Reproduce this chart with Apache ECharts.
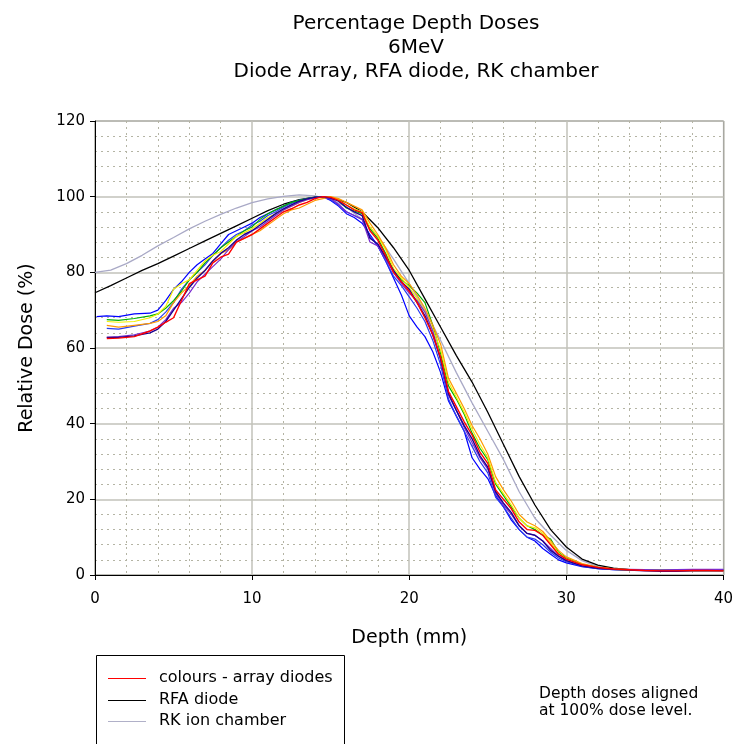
<!DOCTYPE html>
<html><head><meta charset="utf-8">
<script src="https://cdn.jsdelivr.net/npm/echarts@6/dist/echarts.min.js"></script>
<style>html,body{margin:0;padding:0;background:#fff}#c{width:736px;height:744px}</style>
</head><body><div id="c"></div>
<script>
// ---- data ----
const xTicks = [0, 10, 20, 30, 40];
const yTicks = [0, 20, 40, 60, 80, 100, 120];

// depths (mm) of the diode-array readings
const arrayDepths = [0.75,1.5,2.5,3.5,
  4,4.5,5,5.5,6,6.5,7,7.5,8,8.5,9,9.5,
  10,10.5,11,11.5,12,12.5,13,13.5,14,14.5,15,15.5,
  16,16.5,17,17.5,18,18.5,19,19.5,20,20.5,21,21.5,
  22,22.5,23,23.5,24,24.5,25,25.5,26,26.5,27,27.5,
  28,28.5,29,29.5,30,
  31,32,33,34,35,36,37,38,39,40];
const blueDepths = [0.1].concat(arrayDepths);

const redDiode = [62.5,62.6,63.0,64.5,
  65.5,66.8,68.0,72.5,77.0,78.0,79.0,82.5,84.0,84.8,88.0,89.0,
  90.0,91.5,93.0,94.5,96.0,96.8,97.8,98.5,99.5,100.0,99.8,99.0,
  97.8,96.5,95.8,91.0,88.5,84.5,80.0,77.5,75.0,72.0,68.0,63.5,
  57.5,48.5,44.5,40.5,37.0,32.5,29.5,22.5,20.0,17.5,14.0,12.0,
  11.8,10.5,8.0,5.5,4.2,
  2.7,2.0,1.6,1.4,1.2,1.1,1.1,1.2,1.2,1.1];
const blueDiode = [68.3,
  68.5,68.3,69.0,69.2,
  70.0,72.5,75.5,77.5,80.0,82.0,83.5,85.0,87.5,90.0,91.0,92.0,
  93.0,94.5,95.5,96.5,97.5,98.5,99.0,99.5,99.8,100.0,99.0,97.5,
  95.5,94.5,93.0,90.0,87.0,83.0,78.5,74.0,68.5,65.5,63.0,59.0,
  53.5,46.0,42.0,38.0,31.0,28.0,25.5,21.0,18.0,14.5,12.0,10.0,
  9.0,7.0,5.5,4.0,3.2,
  2.2,1.7,1.4,1.3,1.2,1.2,1.2,1.2,1.2,1.2];
const greenDiode = [67.5,67.3,67.8,68.5,
  69.0,70.5,72.5,75.0,78.0,80.0,82.5,84.5,86.5,88.0,89.5,91.0,
  92.0,94.0,95.5,96.5,97.5,98.5,99.0,99.5,99.8,100.0,99.8,99.0,
  97.0,96.2,95.5,91.5,89.0,85.0,80.5,78.0,76.5,74.5,72.0,66.0,
  58.5,50.0,46.5,42.5,37.5,33.5,30.5,24.0,21.0,18.0,15.0,13.0,
  12.0,10.5,9.5,6.0,4.5,
  2.8,2.0,1.6,1.4,1.3,1.2,1.2,1.2,1.2,1.2];
const yellowDiode = [67.0,66.8,67.0,68.0,
  69.0,71.0,75.5,77.0,78.0,80.5,83.0,84.5,85.5,87.5,89.5,90.5,
  91.5,93.0,94.5,95.5,96.5,97.5,98.5,99.2,99.6,100.0,99.8,99.2,
  97.8,96.8,96.0,92.0,89.5,86.0,81.0,78.5,76.0,73.0,69.5,65.0,
  59.5,51.0,47.0,43.0,38.5,34.5,31.0,24.5,21.5,18.5,15.0,13.0,
  12.5,11.0,8.5,5.8,4.3,
  2.7,1.9,1.5,1.3,1.2,1.1,1.1,1.1,1.1,1.1];
const orangeDiode = [66.0,65.5,66.0,66.5,
  67.0,68.5,72.0,74.5,76.5,79.0,80.5,83.0,85.0,86.0,88.0,89.0,
  90.0,91.0,92.5,94.0,95.5,96.5,97.0,98.0,99.0,99.5,100.0,99.5,
  98.5,97.5,96.5,93.0,90.0,86.5,82.0,79.0,77.0,74.0,70.5,66.0,
  61.0,52.0,48.0,44.0,39.5,36.0,32.0,26.0,22.5,19.5,16.0,14.0,
  13.0,11.5,9.0,6.5,4.8,
  3.0,2.1,1.6,1.4,1.3,1.2,1.2,1.2,1.2,1.2];
const purpleDiode = [62.8,63.0,63.5,64.5,
  65.5,67.5,70.5,72.0,74.5,77.5,79.5,81.5,83.5,86.0,88.0,89.5,
  91.0,92.0,93.5,95.0,96.5,97.5,98.5,99.2,99.7,100.0,99.5,98.0,
  96.0,95.0,94.0,88.0,87.0,83.5,80.0,77.0,74.5,72.5,69.5,64.5,
  57.0,47.5,43.5,39.0,35.0,31.0,28.0,21.5,18.5,16.0,13.0,11.0,
  10.5,9.0,7.0,5.0,3.8,
  2.5,1.8,1.5,1.5,1.4,1.3,1.4,1.5,1.5,1.5];
const royalDiode = [65.2,65.0,65.8,66.5,
  67.5,69.5,72.0,75.5,78.0,80.0,82.0,84.5,86.5,88.5,90.0,91.0,
  92.5,93.5,95.0,96.0,97.2,98.2,99.0,99.5,99.8,100.0,99.2,97.8,
  96.0,95.0,94.0,89.5,87.0,83.0,79.0,76.5,73.5,70.5,67.0,62.0,
  55.5,46.5,42.0,38.0,34.0,30.0,27.0,20.5,18.0,15.0,12.0,10.0,
  9.5,8.0,6.0,4.5,3.5,
  2.3,1.7,1.4,1.3,1.2,1.2,1.2,1.2,1.2,1.2];
const navyDiode = [62.8,62.8,63.2,64.0,
  65.0,67.0,70.0,73.0,76.0,78.5,80.5,83.0,85.0,86.5,88.5,90.0,
  91.0,92.5,94.0,95.5,96.8,97.8,98.8,99.4,99.8,100.0,99.6,98.8,
  97.2,96.0,95.0,89.0,87.5,84.0,80.5,77.5,75.5,72.0,68.5,63.5,
  57.0,48.0,43.5,39.5,36.0,31.5,28.5,22.0,19.0,16.5,13.0,11.0,
  10.5,9.0,6.5,5.0,3.8,
  2.4,1.8,1.5,1.3,1.1,1.0,1.0,1.1,1.1,1.1];

// RFA diode and RK chamber, 1 mm steps
const scanDepths = [0,1,2,3,4,5,6,7,8,9,10,11,12,13,14,15,16,17,18,19,20,
  21,22,23,24,25,26,27,28,29,30,31,32,33,34,35,36,37,38,39,40];
const rfaDiode = [74.6,76.5,78.5,80.5,82.3,84.3,86.3,88.3,90.3,92.3,94.3,
  96.3,98.0,99.2,99.9,99.8,98.5,96.0,91.8,86.5,80.5,
  73.0,65.5,58.0,51.0,43.0,34.5,26.0,18.5,12.0,7.4,
  4.2,2.6,1.8,1.4,1.3,1.2,1.2,1.2,1.2,1.2];
const rkChamber = [80.0,80.6,82.3,84.5,87.0,89.2,91.5,93.5,95.3,97.0,98.4,
  99.4,100.1,100.5,100.2,99.3,97.3,94.0,89.5,83.5,77.0,
  70.0,62.0,53.5,45.5,38.0,30.5,22.0,15.0,10.5,6.5,
  3.8,2.2,1.6,1.3,1.2,1.2,1.2,1.2,1.2,1.2];

const legendNames = ['colours - array diodes', 'RFA diode', 'RK ion chamber'];
const legendColors = ['#ff0000', '#000000', '#b0b0c8'];

// ---- chart ----
const FONT = 'DejaVu Sans';
const pair = (xs, ys) => xs.map((x, i) => [x, ys[i]]);
function lineSeries(name, xs, ys, color, width, z) {
  return {
    name, type: 'line', data: pair(xs, ys), symbol: 'none', showSymbol: false,
    lineStyle: { color, width }, itemStyle: { color }, z: z || 2,
    animation: false, silent: true
  };
}

// legend drawn as a boxed key (box runs off the bottom edge as in the reference)
const legendGraphics = [{
  type: 'rect', shape: { x: 96.5, y: 655.5, width: 248, height: 110 },
  style: { fill: '#fff', stroke: '#000', lineWidth: 1 }, z: 100
}];
legendNames.forEach((n, i) => {
  const y = 678 + Math.round(i * 21.5);
  legendGraphics.push({
    type: 'line', shape: { x1: 108, y1: y + 0.5, x2: 146, y2: y + 0.5 },
    style: { stroke: legendColors[i], lineWidth: 1 }, z: 101
  });
  legendGraphics.push({
    type: 'text', x: 159, y: y,
    style: { text: n, fontFamily: FONT, fontSize: 16, fill: '#000', verticalAlign: 'middle', textAlign: 'left' },
    z: 101
  });
});

const chart = echarts.init(document.getElementById('c'), null, { renderer: 'canvas' });
chart.setOption({
  backgroundColor: '#ffffff',
  animation: false,
  title: {
    text: 'Percentage Depth Doses\n6MeV\nDiode Array, RFA diode, RK chamber',
    left: 411, top: 7, textAlign: 'center',
    textStyle: { fontFamily: FONT, fontSize: 20, fontWeight: 'normal', color: '#000', lineHeight: 24 }
  },
  grid: { left: 95, right: 9, top: 121, bottom: 169, show: true, borderColor: '#555', borderWidth: 1 },
  xAxis: {
    type: 'value', min: xTicks[0], max: xTicks[xTicks.length - 1], interval: 10,
    name: 'Depth (mm)', nameLocation: 'middle', nameGap: 54,
    nameTextStyle: { fontFamily: FONT, fontSize: 19, color: '#000' },
    axisLine: { show: true, lineStyle: { color: '#000', width: 1 } },
    axisTick: { show: true, length: 5, lineStyle: { color: '#000' } },
    axisLabel: { fontFamily: FONT, fontSize: 15, color: '#000', margin: 17 },
    splitLine: { show: true, lineStyle: { color: '#c2c2ba', width: 1.5 } },
    minorTick: { show: false, splitNumber: 5 },
    minorSplitLine: { show: true, lineStyle: { color: '#b4b4a4', width: 1, type: [2, 4] } }
  },
  yAxis: {
    type: 'value', min: yTicks[0], max: yTicks[yTicks.length - 1], interval: 20,
    name: 'Relative Dose (%)', nameLocation: 'middle', nameGap: 58, nameRotate: 90,
    nameTextStyle: { fontFamily: FONT, fontSize: 19, color: '#000' },
    axisLine: { show: true, lineStyle: { color: '#000', width: 1 } },
    axisTick: { show: true, length: 5, lineStyle: { color: '#000' } },
    axisLabel: { fontFamily: FONT, fontSize: 15, color: '#000', margin: 10 },
    splitLine: { show: true, lineStyle: { color: '#c2c2ba', width: 1.5 } },
    minorTick: { show: false, splitNumber: 5 },
    minorSplitLine: { show: true, lineStyle: { color: '#b4b4a4', width: 1, type: [2, 4] } }
  },
  graphic: legendGraphics.concat([{
    type: 'text', left: 539, top: 686,
    style: { text: 'Depth doses aligned\nat 100% dose level.', fontFamily: FONT, fontSize: 15.5,
      lineHeight: 16.5, fill: '#000' }
  }]),
  series: [
    lineSeries('RK ion chamber', scanDepths, rkChamber, '#a9a9c6', 1.3, 2),
    lineSeries('RFA diode', scanDepths, rfaDiode, '#000000', 1.3, 3),
    lineSeries('blue diode', blueDepths, blueDiode, '#0000ff', 1.2, 4),
    lineSeries('royal diode', arrayDepths, royalDiode, '#2a3cf0', 1.2, 4),
    lineSeries('green diode', arrayDepths, greenDiode, '#00b000', 1.2, 4),
    lineSeries('yellow diode', arrayDepths, yellowDiode, '#f2f000', 1.2, 4),
    lineSeries('orange diode', arrayDepths, orangeDiode, '#ff9a00', 1.2, 4),
    lineSeries('purple diode', arrayDepths, purpleDiode, '#7a2ad0', 1.2, 4),
    lineSeries('navy diode', arrayDepths, navyDiode, '#1c0090', 1.4, 4),
    lineSeries(legendNames[0], arrayDepths, redDiode, '#ff0000', 1.4, 5)
  ]
});
</script></body></html>
